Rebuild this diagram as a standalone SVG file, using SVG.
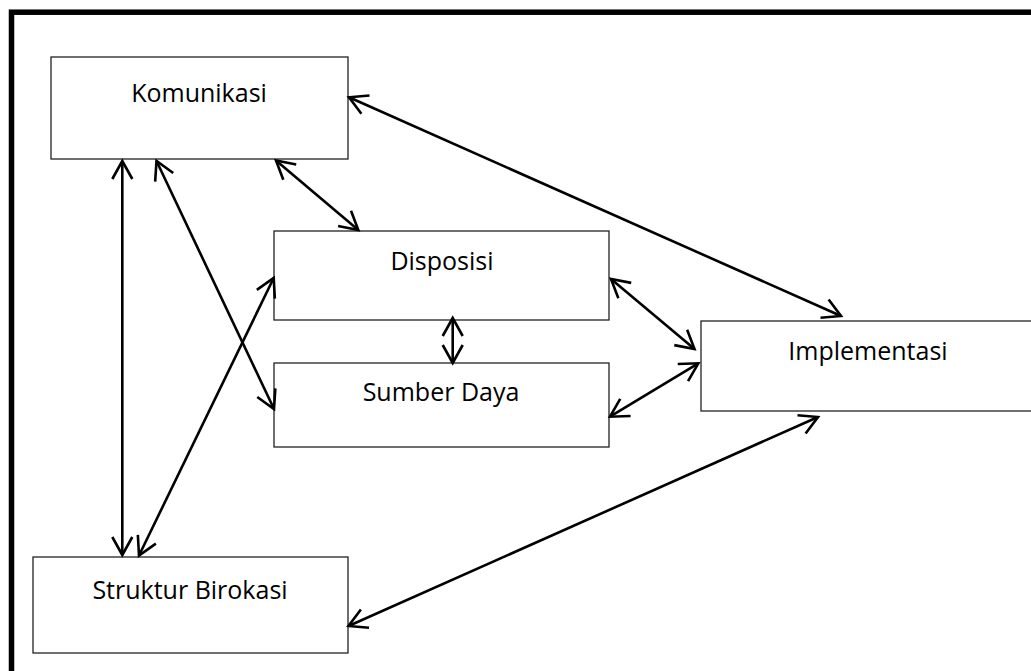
<svg xmlns="http://www.w3.org/2000/svg" width="1031" height="671" viewBox="0 0 1031 671">
<style>
.box{fill:#fff;stroke:#222;stroke-width:1.3}
.lbl{font-family:"Open Sans","Liberation Sans",sans-serif;font-size:25px;fill:#000;text-anchor:middle}
.con{stroke:#000;stroke-width:2.6;fill:none;marker-start:url(#ah);marker-end:url(#ah)}
</style>
<defs>
<marker id="ah" markerUnits="userSpaceOnUse" orient="auto-start-reverse" refX="0" refY="0" markerWidth="40" markerHeight="40" viewBox="-30 -20 40 40" overflow="visible">
<path d="M -18 -10 L 0 0 L -18 10" fill="none" stroke="#000" stroke-width="2.6" stroke-linejoin="miter"/>
</marker>
</defs>
<rect width="1031" height="671" fill="#fff"/>
<rect x="11.5" y="12.2" width="1100" height="720" fill="none" stroke="#000" stroke-width="5.5"/>
<g id="node-komunikasi"><rect class="box" x="51" y="57" width="297" height="102"/><text class="lbl" x="199" y="102">Komunikasi</text></g>
<g id="node-disposisi"><rect class="box" x="274" y="231" width="335" height="89"/><text class="lbl" x="442" y="270">Disposisi</text></g>
<g id="node-sumberdaya"><rect class="box" x="274" y="363" width="335" height="84"/><text class="lbl" x="441" y="401">Sumber Daya</text></g>
<g id="node-implementasi"><rect class="box" x="701" y="321" width="340" height="90"/><text class="lbl" x="868" y="360">Implementasi</text></g>
<g id="node-struktur"><rect class="box" x="33" y="557" width="315" height="96"/><text class="lbl" x="190" y="599">Struktur Birokasi</text></g>
<g id="connectors">
<line class="con" x1="122.3" y1="161" x2="122.3" y2="555"/>
<line class="con" x1="156.5" y1="161" x2="274" y2="409"/>
<line class="con" x1="276" y1="160.5" x2="358.3" y2="230"/>
<line class="con" x1="273.7" y1="278" x2="139" y2="555.5"/>
<line class="con" x1="349" y1="97.3" x2="841" y2="316"/>
<line class="con" x1="611" y1="279" x2="694.5" y2="349"/>
<line class="con" x1="610" y1="416.7" x2="698.3" y2="363.3"/>
<line class="con" x1="452.7" y1="318" x2="452.7" y2="363"/>
<line class="con" x1="348.5" y1="626" x2="818" y2="417"/>
</g>
</svg>
